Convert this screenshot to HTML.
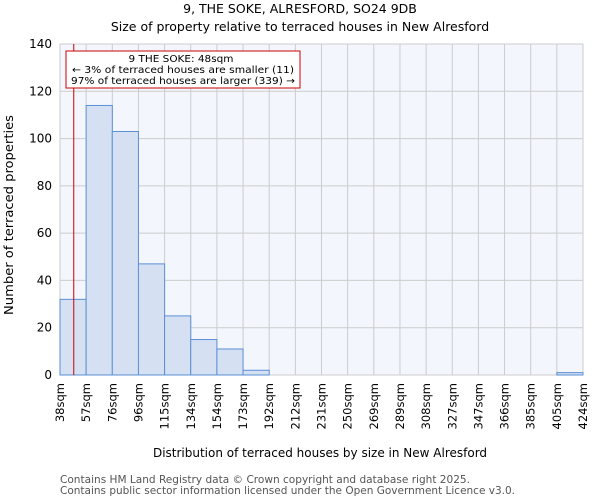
<!DOCTYPE html>
<html><head><meta charset="utf-8"><style>
body{margin:0;background:#fff;font-family:"DejaVu Sans","Liberation Sans",sans-serif;}
svg text{font-family:"DejaVu Sans","Liberation Sans",sans-serif;}
</style></head><body>
<svg id="chart" width="600" height="500" xmlns="http://www.w3.org/2000/svg">
<text x="300" y="13" text-anchor="middle" font-size="12.5">9, THE SOKE, ALRESFORD, SO24 9DB</text>
<text x="300" y="31" text-anchor="middle" font-size="12.5">Size of property relative to terraced houses in New Alresford</text>
<rect x="60" y="44" width="523" height="331" fill="#f3f6fd"/>
<g id="grid"></g>
<g id="bars"></g>
<g id="yticks"></g>
<g id="xticks"></g>
<line id="marker" y1="44" y2="375" stroke="#cc0000" stroke-width="1"/>
<rect x="66" y="51" width="234" height="37" fill="#fff" stroke="#cc0000" stroke-width="1"/>
<text x="181" y="62" text-anchor="middle" font-size="10" textLength="105" lengthAdjust="spacingAndGlyphs">9 THE SOKE: 48sqm</text>
<text x="183" y="73" text-anchor="middle" font-size="10" textLength="222" lengthAdjust="spacingAndGlyphs">← 3% of terraced houses are smaller (11)</text>
<text x="183" y="84" text-anchor="middle" font-size="10" textLength="224" lengthAdjust="spacingAndGlyphs">97% of terraced houses are larger (339) →</text>
<text transform="translate(13,215) rotate(-90)" text-anchor="middle" font-size="12" textLength="200" lengthAdjust="spacingAndGlyphs">Number of terraced properties</text>
<text x="320" y="457" text-anchor="middle" font-size="12">Distribution of terraced houses by size in New Alresford</text>
<text x="60" y="483" font-size="10.5" fill="#555" textLength="410" lengthAdjust="spacingAndGlyphs">Contains HM Land Registry data © Crown copyright and database right 2025.</text>
<text x="60" y="494" font-size="10.5" fill="#555" textLength="455" lengthAdjust="spacingAndGlyphs">Contains public sector information licensed under the Open Government Licence v3.0.</text>
</svg>
<script>
const binLabels=["38sqm","57sqm","76sqm","96sqm","115sqm","134sqm","154sqm","173sqm","192sqm","212sqm","231sqm","250sqm","269sqm","289sqm","308sqm","327sqm","347sqm","366sqm","385sqm","405sqm","424sqm"];
const counts=[32,114,103,47,25,15,11,2,0,0,0,0,0,0,0,0,0,0,0,1];
const yTicks=[0,20,40,60,80,100,120,140];
const markerValue=48;
const binEdgeValues=[38,57,76,96,115,134,154,173,192,212,231,250,269,289,308,327,347,366,385,405,424];
const X0=60,X1=583,Y0=375,Y1=44,YMAX=140;
const nb=counts.length,bw=(X1-X0)/nb;
const xs=i=>X0+i*bw;
const ys=v=>Y0-(v/YMAX)*(Y0-Y1);
const NS="http://www.w3.org/2000/svg";
function mk(t,a,p){const e=document.createElementNS(NS,t);for(const k in a)e.setAttribute(k,a[k]);p.appendChild(e);return e;}
const grid=document.getElementById('grid'),bars=document.getElementById('bars'),yt=document.getElementById('yticks'),xt=document.getElementById('xticks');
yTicks.forEach(v=>{
  const l=mk('line',{x1:X0,x2:X1,y1:ys(v),y2:ys(v),stroke:'#cccccc','stroke-width':1},grid);
  
  
  const t=mk('text',{x:X0-8,y:ys(v)+4,'text-anchor':'end','font-size':12},yt);
  t.textContent=v;
  
  
});
binLabels.forEach((s,i)=>{
  const x=xs(i);
  const l=mk('line',{x1:x,x2:x,y1:Y1,y2:Y0,stroke:'#cccccc','stroke-width':1},grid);
  
  
  const t=mk('text',{transform:`translate(${x+4},${Y0+8}) rotate(-90)`,'text-anchor':'end','font-size':11.5},xt);
  t.textContent=s;
  
  
});
counts.forEach((c,i)=>{
  if(c<=0)return;
  const r=mk('rect',{x:xs(i),y:ys(c),width:bw,height:Y0-ys(c),fill:'#d6e0f3',stroke:'#5b8fd6','stroke-width':1},bars);
  
  
});
const mi=binEdgeValues.findIndex((e,i)=>markerValue<binEdgeValues[i+1]);
const mx=xs(mi)+bw*(markerValue-binEdgeValues[mi])/(binEdgeValues[mi+1]-binEdgeValues[mi]);
const m=document.getElementById('marker');m.setAttribute('x1',mx);m.setAttribute('x2',mx);
</script>
</body></html>
